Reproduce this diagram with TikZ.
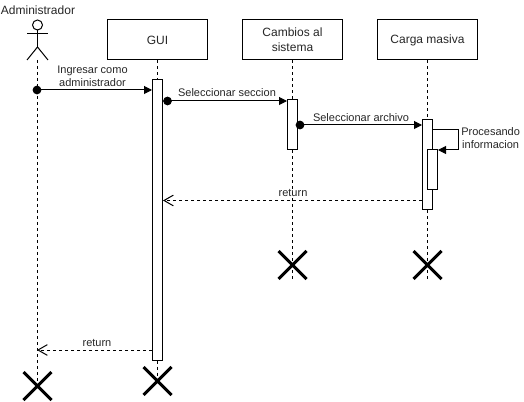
\documentclass[tikz,border=0pt]{standalone}
\usepackage{fontspec}
\setmainfont{Liberation Sans}
\usetikzlibrary{arrows.meta,positioning,calc,shapes.misc}
\tikzset{
  obj/.style={draw=black, line width=0.75pt, minimum width=75pt, minimum height=30pt, inner sep=0pt,
    align=center, font=\fontsize{9}{11}\selectfont, text=black!85},
  act/.style={draw=black, line width=0.75pt, fill=white, minimum width=7.5pt, inner sep=0pt},
  kill/.style={cross out, draw=black, line width=2.25pt, minimum size=21pt, inner sep=0pt, outer sep=0pt},
  lbl/.style={font=\fontsize{8.25}{10}\selectfont, text=black!85, align=center, inner sep=0pt},
  life/.style={dash pattern=on 2.25pt off 2.25pt, line width=0.75pt},
  call/.style={{Circle[length=6.5pt]}-{Triangle[length=6pt,width=6pt]}, shorten <=-3.25pt, line width=0.75pt},
  selfcall/.style={-{Triangle[length=6pt,width=6pt]}, line width=0.75pt},
  ret/.style={-{Straight Barb[length=7pt,width=8pt]}, dash pattern=on 2.25pt off 2.25pt, line width=0.75pt}
}
\begin{document}
\begin{tikzpicture}[x=0.75pt,y=-0.75pt]
  \useasboundingbox (0,0) rectangle (524,402);
  \node[lbl, font=\fontsize{9}{11}\selectfont] (admin) at (38,10) {Administrador};
  \node[obj] (gui) at (157.5,40) {GUI};
  \node[obj] (camb) at (292.5,40) {Cambios al\\sistema};
  \node[obj] (carga) at (427.5,40) {Carga masiva};

  % actor
  \node[circle, draw=black, line width=0.75pt, minimum size=7.5pt, inner sep=0pt] (head) at (37.5,25) {};
  \coordinate (hip) at (37.5,47);
  \coordinate (foot) at (37.5,60);
  \draw[line width=0.75pt] (head.south) -- (hip);
  \draw[line width=0.75pt] (27,33.5) -- (48,33.5);
  \draw[line width=0.75pt] (27,60) -- (hip) -- (48,60);

  % end marks
  \node[kill] (xadmin) at (37.5,386) {};
  \node[kill] (xgui) at (157.5,381) {};
  \node[kill] (xcamb) at (292.5,265) {};
  \node[kill] (xcarga) at (427.5,265) {};

  \draw[life] (foot) -- (xadmin.center);
  \draw[life] (gui.south) -- (xgui.center);
  \draw[life] (camb.south) -- (292.5,280);
  \draw[life] (carga.south) -- (427.5,280);

  \node[act, minimum height=210pt] (agui) at (157.5,220) {};
  \node[act, minimum height=37.5pt] (acamb) at (292.5,125) {};
  \node[act, minimum height=67.5pt] (acarga) at (427.5,165) {};
  \node[act, minimum height=30pt] (aproc) at (432.5,170) {};

  % messages
  \coordinate (m1) at (37,90);
  \coordinate (m2) at (167.5,101);
  \coordinate (m3) at (300,125);
  \draw[call] (m1) -- (agui.west |- m1);
  \draw[call] (m2) -- (acamb.west |- m2);
  \draw[call] (m3) -- (acarga.west |- m3);
  \coordinate (s1) at (458,130);
  \coordinate (s2) at (458,150);
  \draw[selfcall] (acarga.east |- s1) -- (s1) -- (s2) -- (aproc.east |- s2);
  \coordinate (r1) at (0,200.5);
  \coordinate (r2) at (0,350);
  \draw[ret] (acarga.west |- r1) -- (agui.east |- r1);
  \draw[ret] (agui.west |- r2) -- (m1 |- r2);

  \node[lbl] at (92.5,76) {Ingresar como\\administrador};
  \node[lbl] at (227,93) {Seleccionar seccion};
  \node[lbl] at (361,117.5) {Seleccionar archivo};
  \node[lbl, anchor=west] at (461,138) {Procesando\\informacion};
  \node[lbl] at (293,193) {return};
  \node[lbl] at (97,342.5) {return};
\end{tikzpicture}
\end{document}
